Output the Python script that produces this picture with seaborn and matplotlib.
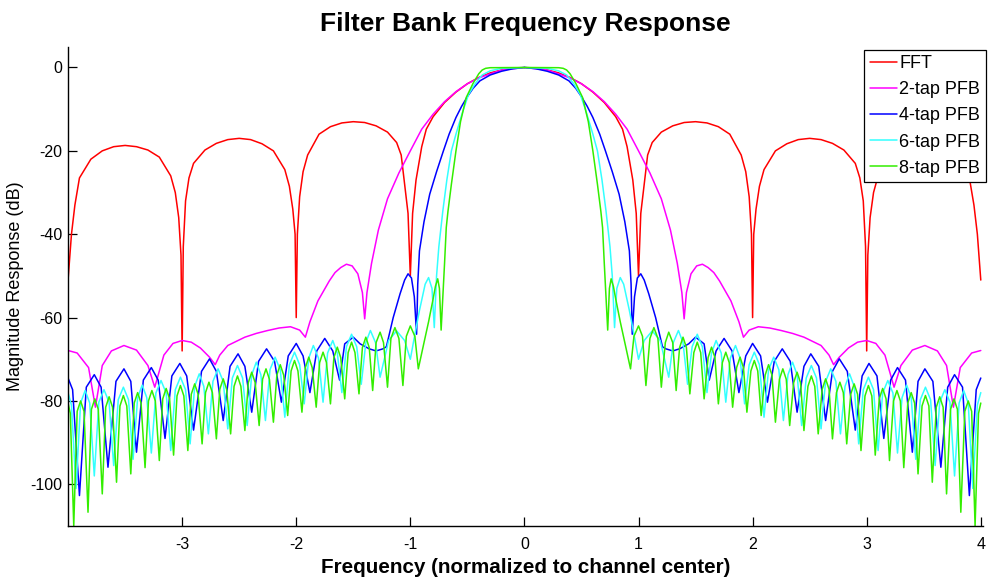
import matplotlib
matplotlib.use("Agg")
import matplotlib.pyplot as plt
import pandas as pd
import seaborn as sns

# ---------------- data ----------------
series_names = ["FFT", "2-tap PFB", "4-tap PFB", "6-tap PFB", "8-tap PFB"]
series_colors = ["#ff0000", "#ff00ff", "#0000ff", "#33ffff", "#33ee00"]
x_ticks = [-3, -2, -1, 0, 1, 2, 3, 4]
x_tick_labels = ["-3", "-2", "-1", "0", "1", "2", "3", "4"]
y_ticks = [-100, -80, -60, -40, -20, 0]
y_tick_labels = ["-100", "-80", "-60", "-40", "-20", "0"]

# FFT (red): positive-frequency half, then negative-frequency half (from 0 outward)
fft_x_pos = [0, 0.1, 0.2, 0.3, 0.4, 0.5, 0.6, 0.7, 0.8, 0.86,
             0.9, 0.95, 0.98, 1.0, 1.02, 1.05, 1.08, 1.12, 1.2, 1.3,
             1.4, 1.5, 1.6, 1.7, 1.8, 1.9, 1.94, 1.97, 1.99, 2.0,
             2.01, 2.03, 2.06, 2.1, 2.2, 2.3, 2.4, 2.5, 2.6, 2.7,
             2.8, 2.9, 2.94, 2.97, 2.99, 3.0, 3.01, 3.03, 3.06, 3.1,
             3.2, 3.3, 3.4, 3.5, 3.6, 3.7, 3.8, 3.9, 3.94, 3.97,
             4.0]
fft_x_neg = [0, -0.1, -0.2, -0.3, -0.4, -0.5, -0.6, -0.7, -0.8, -0.86,
             -0.9, -0.95, -0.98, -1.0, -1.02, -1.05, -1.08, -1.12, -1.2, -1.3,
             -1.4, -1.5, -1.6, -1.7, -1.8, -1.9, -1.94, -1.97, -1.99, -2.0,
             -2.01, -2.03, -2.06, -2.1, -2.2, -2.3, -2.4, -2.5, -2.6, -2.7,
             -2.8, -2.9, -2.94, -2.97, -2.99, -3.0, -3.01, -3.03, -3.06, -3.1,
             -3.2, -3.3, -3.4, -3.5, -3.6, -3.7, -3.8, -3.9, -3.94, -3.97,
             -4.0]
fft_db = [0, -0.14, -0.58, -1.3, -2.4, -3.9, -5.9, -8.4, -11.8, -14.8,
          -19, -27, -35, -50, -35, -28, -21, -18, -15.5, -14,
          -13.2, -13, -13.3, -14.2, -16, -21, -25, -31, -40, -60,
          -40, -34, -28.5, -24.5, -20, -18.3, -17.3, -17, -17.3, -18.2,
          -19.8, -23, -26.5, -32, -43, -68, -45, -36, -30, -26,
          -21.5, -19.8, -19, -18.7, -19, -20, -22, -26.5, -33, -40,
          -51]

# 2-tap PFB (magenta)
pfb2_x_pos = [0, 0.2, 0.4, 0.5, 0.6, 0.7, 0.8, 0.9, 1.0, 1.1,
              1.2, 1.28, 1.34, 1.38, 1.40, 1.42, 1.46, 1.51, 1.56, 1.61,
              1.66, 1.71, 1.81, 1.88, 1.92, 1.97, 2.05, 2.15, 2.25, 2.35,
              2.45, 2.60, 2.67, 2.71, 2.76, 2.84, 2.92, 3.0, 3.08, 3.16,
              3.24, 3.30, 3.40, 3.51, 3.62, 3.70, 3.76, 3.82, 3.92, 4.0]
pfb2_x_neg = [0, -0.2, -0.4, -0.5, -0.6, -0.7, -0.8, -0.9, -1.0, -1.1,
              -1.2, -1.28, -1.34, -1.38, -1.40, -1.42, -1.46, -1.51, -1.56, -1.61,
              -1.66, -1.71, -1.81, -1.88, -1.92, -1.97, -2.05, -2.15, -2.25, -2.35,
              -2.45, -2.60, -2.67, -2.71, -2.76, -2.84, -2.92, -3.0, -3.08, -3.16,
              -3.24, -3.30, -3.40, -3.51, -3.62, -3.70, -3.76, -3.82, -3.92, -4.0]
pfb2_db = [0, -0.6, -2.5, -3.9, -5.8, -8.2, -11.2, -14.8, -20, -25.3,
           -31.5, -39, -47, -54, -60.3, -54, -49.5, -47.6, -47.2, -48,
           -49.2, -51.2, -56, -61, -64.7, -63, -62.2, -62.5, -63.1, -63.8,
           -64.7, -66.7, -69, -71.3, -69.5, -67.3, -65.9, -65.5, -66.2, -69,
           -76.7, -71.5, -67.8, -66.7, -68, -71.5, -81.5, -72, -68.5, -67.9]

# 4-tap PFB (blue)
pfb4_x_pos = [0, 0.1, 0.2, 0.3, 0.39, 0.45, 0.5, 0.55, 0.6, 0.66,
              0.71, 0.77, 0.83, 0.88, 0.92, 0.935, 0.945, 0.965, 0.99, 1.02,
              1.05, 1.09, 1.15, 1.21, 1.24, 1.30, 1.36, 1.44, 1.50, 1.575,
              1.62, 1.68, 1.75, 1.82, 1.88, 1.94, 2.0, 2.07, 2.13, 2.19,
              2.26, 2.33, 2.39, 2.45, 2.51, 2.58, 2.64, 2.70, 2.76, 2.83,
              2.90, 2.96, 3.02, 3.09, 3.15, 3.21, 3.27, 3.34, 3.40, 3.45,
              3.51, 3.58, 3.65, 3.71, 3.77, 3.84, 3.90, 3.96, 4.0]
pfb4_x_neg = [0, -0.1, -0.2, -0.3, -0.39, -0.45, -0.5, -0.55, -0.6, -0.66,
              -0.71, -0.77, -0.83, -0.88, -0.92, -0.935, -0.945, -0.965, -0.99, -1.02,
              -1.05, -1.09, -1.15, -1.21, -1.24, -1.30, -1.36, -1.44, -1.50, -1.575,
              -1.62, -1.68, -1.75, -1.82, -1.88, -1.94, -2.0, -2.07, -2.13, -2.19,
              -2.26, -2.33, -2.39, -2.45, -2.51, -2.58, -2.64, -2.70, -2.76, -2.83,
              -2.90, -2.96, -3.02, -3.09, -3.15, -3.21, -3.27, -3.34, -3.40, -3.45,
              -3.51, -3.58, -3.65, -3.71, -3.77, -3.84, -3.90, -3.96, -4.0]
pfb4_db = [0, -0.3, -0.9, -1.8, -3.2, -5, -7, -9.3, -12, -16,
           -20, -25, -30.4, -37, -44, -52, -64, -55, -50.5, -49.5,
           -51, -54.3, -60, -67, -67.5, -68, -67.5, -66.3, -64.7, -66.3,
           -75, -68, -65, -68, -78, -69.2, -66.2, -69.2, -80.3, -70.5,
           -67.5, -70.5, -82.7, -71.7, -68.7, -71.7, -84.7, -72.9, -69.9, -72.9,
           -87, -74, -71, -74, -89, -75, -72, -75, -92.3, -75.3,
           -72.3, -75.3, -95.9, -76.7, -73.7, -76.7, -102.7, -77.3, -74.5]

# 6-tap PFB (cyan)
pfb6_x_pos = [0, 0.2, 0.3, 0.37, 0.43, 0.49, 0.54, 0.60, 0.64, 0.68,
              0.715, 0.75, 0.77, 0.79, 0.81, 0.84, 0.87, 0.92, 0.96, 1.0,
              1.05, 1.12, 1.19, 1.265, 1.305, 1.35, 1.39, 1.43, 1.47, 1.515,
              1.56, 1.60, 1.64, 1.68, 1.725, 1.765, 1.805, 1.85, 1.89, 1.93,
              1.97, 2.015, 2.06, 2.10, 2.14, 2.185, 2.23, 2.27, 2.31, 2.35,
              2.39, 2.43, 2.47, 2.515, 2.56, 2.60, 2.64, 2.685, 2.73, 2.77,
              2.81, 2.85, 2.89, 2.93, 2.97, 3.015, 3.06, 3.10, 3.14, 3.185,
              3.23, 3.27, 3.31, 3.35, 3.39, 3.43, 3.47, 3.515, 3.56, 3.60,
              3.64, 3.685, 3.73, 3.77, 3.81, 3.85, 3.89, 3.93, 3.97, 4.0]
pfb6_x_neg = [0, -0.2, -0.3, -0.37, -0.43, -0.49, -0.54, -0.60, -0.64, -0.68,
              -0.715, -0.75, -0.77, -0.79, -0.81, -0.84, -0.87, -0.92, -0.96, -1.0,
              -1.05, -1.12, -1.19, -1.265, -1.305, -1.35, -1.39, -1.43, -1.47, -1.515,
              -1.56, -1.60, -1.64, -1.68, -1.725, -1.765, -1.805, -1.85, -1.89, -1.93,
              -1.97, -2.015, -2.06, -2.10, -2.14, -2.185, -2.23, -2.27, -2.31, -2.35,
              -2.39, -2.43, -2.47, -2.515, -2.56, -2.60, -2.64, -2.685, -2.73, -2.77,
              -2.81, -2.85, -2.89, -2.93, -2.97, -3.015, -3.06, -3.10, -3.14, -3.185,
              -3.23, -3.27, -3.31, -3.35, -3.39, -3.43, -3.47, -3.515, -3.56, -3.60,
              -3.64, -3.685, -3.73, -3.77, -3.81, -3.85, -3.89, -3.93, -3.97, -4.0]
pfb6_db = [0, -0.2, -0.8, -1.8, -3.8, -6.5, -10.5, -16, -20, -27,
           -34.4, -43, -50, -62.4, -53, -50.4, -52, -58.3, -64, -70,
           -65.5, -63.2, -65.5, -74.3, -66, -63.1, -66, -76, -67, -64,
           -67, -78, -68.5, -65.5, -68.5, -80.3, -69.7, -66.7, -69.7, -80.7,
           -71.3, -68.3, -71.3, -83.9, -72.5, -69.5, -72.5, -84.7, -73.7, -70.7,
           -73.7, -85.9, -74.5, -71.5, -74.5, -86.7, -75.3, -72.3, -75.3, -87.9,
           -76.5, -73.5, -76.5, -90.3, -77.3, -74.3, -77.3, -91.9, -78.1, -75.1,
           -78.1, -92.5, -79.2, -76.2, -79.2, -94, -79.7, -76.7, -79.7, -95.5,
           -80.3, -77.3, -80.3, -98, -80.5, -77.5, -80.5, -101, -81, -78]

# 8-tap PFB (green)
pfb8_x_pos = [0, 0.3, 0.34, 0.37, 0.40, 0.45, 0.51, 0.56, 0.60, 0.64,
              0.67, 0.685, 0.70, 0.715, 0.73, 0.745, 0.76, 0.78, 0.80, 0.84,
              0.88, 0.93,
              0.96, 1.0, 1.035, 1.065,
              1.10, 1.135, 1.17, 1.20,
              1.235, 1.265, 1.30, 1.33,
              1.36, 1.39, 1.42, 1.45,
              1.485, 1.515, 1.545, 1.575,
              1.61, 1.64, 1.67, 1.70,
              1.735, 1.765, 1.795, 1.825,
              1.86, 1.89, 1.92, 1.95,
              1.985, 2.015, 2.045, 2.075,
              2.11, 2.14, 2.17, 2.20,
              2.235, 2.265, 2.295, 2.325,
              2.36, 2.39, 2.42, 2.45,
              2.485, 2.515, 2.545, 2.575,
              2.61, 2.64, 2.67, 2.70,
              2.735, 2.765, 2.795, 2.825,
              2.86, 2.89, 2.92, 2.95,
              2.985, 3.015, 3.045, 3.075,
              3.11, 3.14, 3.17, 3.20,
              3.235, 3.265, 3.295, 3.325,
              3.36, 3.39, 3.42, 3.45,
              3.485, 3.515, 3.545, 3.575,
              3.61, 3.64, 3.67, 3.70,
              3.735, 3.765, 3.795, 3.825,
              3.86, 3.89, 3.92, 3.95,
              3.98, 4.0]
pfb8_x_neg = [0, -0.3, -0.34, -0.37, -0.40, -0.45, -0.51, -0.56, -0.60, -0.64,
              -0.67, -0.685, -0.70, -0.715, -0.73, -0.745, -0.76, -0.78, -0.80, -0.84,
              -0.88, -0.93,
              -0.96, -1.0, -1.035, -1.065,
              -1.10, -1.135, -1.17, -1.20,
              -1.235, -1.265, -1.30, -1.33,
              -1.36, -1.39, -1.42, -1.45,
              -1.485, -1.515, -1.545, -1.575,
              -1.61, -1.64, -1.67, -1.70,
              -1.735, -1.765, -1.795, -1.825,
              -1.86, -1.89, -1.92, -1.95,
              -1.985, -2.015, -2.045, -2.075,
              -2.11, -2.14, -2.17, -2.20,
              -2.235, -2.265, -2.295, -2.325,
              -2.36, -2.39, -2.42, -2.45,
              -2.485, -2.515, -2.545, -2.575,
              -2.61, -2.64, -2.67, -2.70,
              -2.735, -2.765, -2.795, -2.825,
              -2.86, -2.89, -2.92, -2.95,
              -2.985, -3.015, -3.045, -3.075,
              -3.11, -3.14, -3.17, -3.20,
              -3.235, -3.265, -3.295, -3.325,
              -3.36, -3.39, -3.42, -3.45,
              -3.485, -3.515, -3.545, -3.575,
              -3.61, -3.64, -3.67, -3.70,
              -3.735, -3.765, -3.795, -3.825,
              -3.86, -3.89, -3.92, -3.95,
              -3.98, -4.0]
pfb8_db = [0, -0.05, -0.2, -0.6, -1.5, -3.8, -7.2, -13, -20, -28,
           -34.5, -38.4, -47, -55, -63, -53, -50.7, -52.5, -55.5, -61,
           -66, -72.3,
           -64.5, -62, -64.5, -76.3,
           -65, -62.4, -65, -76.7,
           -66, -63.5, -66, -77.5,
           -67.2, -64.7, -67.2, -78.3,
           -68.4, -65.9, -68.4, -79.5,
           -69.6, -67.1, -69.6, -80.7,
           -70.8, -68.3, -70.8, -81.5,
           -72, -69.5, -72, -82.7,
           -72.8, -70.3, -72.8, -83.5,
           -73.8, -71.3, -73.8, -85.1,
           -74.8, -72.3, -74.8, -85.9,
           -75.6, -73.1, -75.6, -87.1,
           -76.5, -74, -76.5, -87.9,
           -77.2, -74.7, -77.2, -89.1,
           -78, -75.5, -78, -90.3,
           -78.4, -75.9, -78.4, -91.9,
           -78.8, -76.3, -78.8, -93,
           -79.5, -77, -79.5, -94.3,
           -80, -77.5, -80, -96,
           -80.5, -78, -80.5, -97.5,
           -81.2, -78.7, -81.2, -99.5,
           -81.5, -79, -81.5, -102.3,
           -82, -79.5, -82, -106.7,
           -82.5, -80, -82.5, -110,
           -83, -80.5]

# ---------------- long table for seaborn ----------------
series_data = [
    ("FFT", fft_x_neg, fft_x_pos, fft_db),
    ("2-tap PFB", pfb2_x_neg, pfb2_x_pos, pfb2_db),
    ("4-tap PFB", pfb4_x_neg, pfb4_x_pos, pfb4_db),
    ("6-tap PFB", pfb6_x_neg, pfb6_x_pos, pfb6_db),
    ("8-tap PFB", pfb8_x_neg, pfb8_x_pos, pfb8_db),
]
rows = []
for name, xn, xp, db in series_data:
    assert len(xn) == len(db) and len(xp) == len(db), name
    for half, xs in (("neg", xn), ("pos", xp)):
        for order, (xv, dv) in enumerate(zip(xs, db)):
            rows.append({"series": name, "half": half, "order": order,
                         "freq": xv, "db": dv})
df = pd.DataFrame(rows)

# ---------------- style ----------------
sns.set_theme(style="white")
plt.rcParams["font.family"] = ["Liberation Sans", "DejaVu Sans"]
plt.rcParams["axes.unicode_minus"] = False
plt.rcParams["text.color"] = "black"
plt.rcParams["axes.labelcolor"] = "black"

fig = plt.figure(figsize=(9.89, 5.81), dpi=100)
ax = fig.add_axes([0.0688, 0.0947, 0.9252, 0.825])

sns.lineplot(data=df, x="freq", y="db", hue="series", units="half",
             estimator=None, sort=False, hue_order=series_names,
             palette=dict(zip(series_names, series_colors)),
             linewidth=1.1, ax=ax)

ax.set_xlim(-4.0, 4.02)
ax.set_ylim(-110, 5)
ax.set_xticks(x_ticks)
ax.set_xticklabels(x_tick_labels)
ax.set_yticks(y_ticks)
ax.set_yticklabels(y_tick_labels)

for side in ("top", "right"):
    ax.spines[side].set_visible(False)
for side in ("left", "bottom"):
    ax.spines[side].set_color("black")
    ax.spines[side].set_linewidth(1.0)

ax.tick_params(axis="both", which="major", direction="in", length=6.5,
               width=0.9, color="black", labelcolor="black", labelsize=11.5,
               bottom=True, left=True, top=False, right=False)
ax.tick_params(axis="x", pad=8)
ax.tick_params(axis="y", pad=4)

ax.set_title("Filter Bank Frequency Response", fontsize=19, fontweight="bold",
             pad=11, color="black")
ax.set_xlabel("Frequency (normalized to channel center)", fontsize=14.9,
              fontweight="bold", labelpad=4, color="black")
ax.set_ylabel("Magnitude Response (dB)", fontsize=13, labelpad=5,
              color="black")

handles, labels = ax.get_legend_handles_labels()
leg = ax.legend(handles, labels, loc="upper right", bbox_to_anchor=(1.003, 0.993),
                borderaxespad=0, frameon=True, fancybox=False, framealpha=1,
                edgecolor="black", fontsize=13, handlelength=1.5,
                handletextpad=0.15, borderpad=0.3, labelspacing=0.5)
leg.get_frame().set_linewidth(0.9)
for text in leg.get_texts():
    text.set_color("black")
for line in leg.get_lines():
    line.set_linewidth(1.1)

fig.savefig("out.png", dpi=100, facecolor="white")
